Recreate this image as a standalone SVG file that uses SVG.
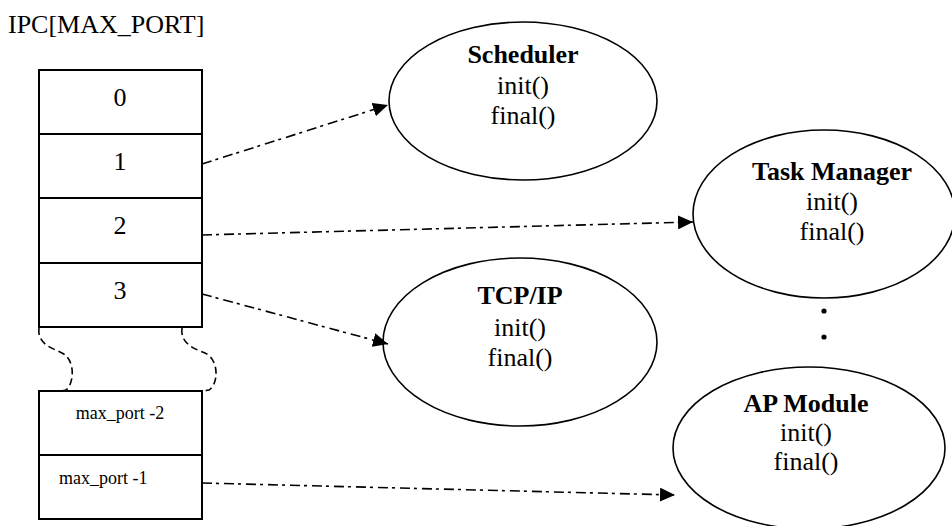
<svg xmlns="http://www.w3.org/2000/svg" width="952" height="526" viewBox="0 0 952 526">
  <style>
    text { font-family: "Liberation Serif", "Times New Roman", serif; fill: #000; }
    .lbl { font-size: 26px; }
    .title { font-size: 26px; font-weight: bold; }
    .small { font-size: 18px; }
    .cell { fill: #fff; stroke: #000; stroke-width: 2; }
    .node { fill: #fff; stroke: #000; stroke-width: 1.6; }
    .link { fill: none; stroke: #000; stroke-width: 1.6; stroke-dasharray: 10 4 3 5; marker-end: url(#arrow); }
    .gap { fill: none; stroke: #000; stroke-width: 1.6; stroke-dasharray: 7 4; }
    .mid { text-anchor: middle; }
  </style>
  <defs>
    <marker id="arrow" markerUnits="userSpaceOnUse" markerWidth="16" markerHeight="14" refX="15" refY="7" orient="auto">
      <path d="M0,0 L15,7 L0,14 Z" fill="#000"/>
    </marker>
  </defs>

  <rect width="952" height="526" fill="#fff"/>

  <text class="lbl" x="8" y="33">IPC[MAX_PORT]</text>

  <!-- port table, upper part -->
  <g id="ports-top">
    <rect class="cell" x="39" y="70" width="163" height="64"/>
    <rect class="cell" x="39" y="134" width="163" height="64"/>
    <rect class="cell" x="39" y="198" width="163" height="65"/>
    <rect class="cell" x="39" y="263" width="163" height="64"/>
    <text class="lbl mid" x="120" y="106">0</text>
    <text class="lbl mid" x="120" y="170">1</text>
    <text class="lbl mid" x="120" y="234">2</text>
    <text class="lbl mid" x="120" y="299">3</text>
  </g>

  <!-- break marks between the two parts of the table -->
  <g id="ports-break">
    <path class="gap" d="M39,328 C37,344 52,348 62,353 C76,360 74,384 66,390 Q62,391 57,391"/>
    <path class="gap" d="M182,328 C180,344 195,349 205,353 C219,359 219,384 209,390 Q205,391 200,391"/>
  </g>

  <!-- port table, last entries -->
  <g id="ports-bottom">
    <rect class="cell" x="39" y="391" width="163" height="64"/>
    <rect class="cell" x="39" y="455" width="163" height="64"/>
    <text class="small mid" x="120" y="419">max_port -2</text>
    <text class="small" x="59" y="484">max_port -1</text>
  </g>

  <g id="scheduler">
    <ellipse class="node" cx="523" cy="101" rx="134" ry="79"/>
    <text class="title mid" x="523" y="63">Scheduler</text>
    <text class="lbl mid" x="523" y="94">init()</text>
    <text class="lbl mid" x="523" y="124">final()</text>
  </g>

  <g id="task-manager">
    <ellipse class="node" cx="824" cy="214" rx="131" ry="84"/>
    <text class="title mid" x="832" y="180">Task Manager</text>
    <text class="lbl mid" x="832" y="210">init()</text>
    <text class="lbl mid" x="832" y="240">final()</text>
  </g>

  <g id="tcp-ip">
    <ellipse class="node" cx="520" cy="342" rx="137" ry="84"/>
    <text class="title mid" x="520" y="304">TCP/IP</text>
    <text class="lbl mid" x="520" y="336">init()</text>
    <text class="lbl mid" x="520" y="366">final()</text>
  </g>

  <g id="more">
    <circle cx="824" cy="311" r="2.6" fill="#000"/>
    <circle cx="824" cy="337" r="2.6" fill="#000"/>
  </g>

  <g id="ap-module">
    <ellipse class="node" cx="809" cy="448" rx="136" ry="81"/>
    <text class="title mid" x="806" y="412">AP Module</text>
    <text class="lbl mid" x="806" y="441">init()</text>
    <text class="lbl mid" x="806" y="470">final()</text>
  </g>

  <g id="connectors">
    <line class="link" x1="202" y1="164" x2="388" y2="105"/>
    <line class="link" x1="202" y1="235" x2="693" y2="222"/>
    <line class="link" x1="202" y1="294" x2="388" y2="344"/>
    <line class="link" x1="202" y1="483" x2="675" y2="495"/>
  </g>
</svg>
